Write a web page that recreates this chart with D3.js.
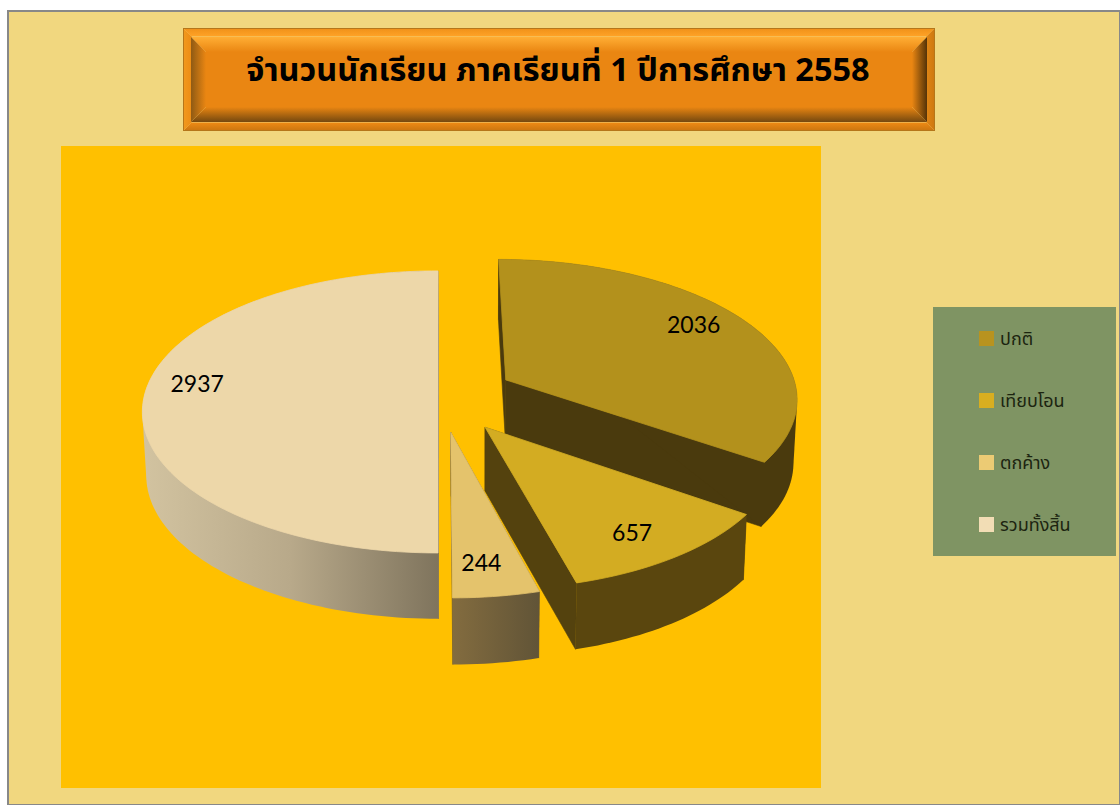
<!DOCTYPE html>
<html>
<head>
<meta charset="utf-8">
<script src="https://d3js.org/d3.v7.min.js"></script>
<style>
  html, body { margin: 0; padding: 0; background: #fff; }
  svg { display: block; }
</style>
</head>
<body>
<script>
  // data
  var categories = ["ปกติ", "เทียบโอน", "ตกค้าง", "รวมทั้งสิ้น"];
  var students = [2036, 657, 244, 2937];
  var chartTitle = "จำนวนนักเรียน ภาคเรียนที่ 1 ปีการศึกษา 2558";

  var topColors = ["#b3911c", "#d3ac22", "#e4c36c", "#edd7a9"];
  var swatchColors = ["#b8931f", "#d8ae20", "#eccb74", "#f2ddb5"];
  var thaiFont = "'Noto Sans Thai', 'Noto Sans', 'DejaVu Sans', sans-serif";
  var numFont = "Lato, 'Open Sans', sans-serif";

  var width = 1120, height = 805;
  var svg = d3.select("body").append("svg")
    .attr("width", width)
    .attr("height", height);

  var defs = svg.append("defs");
  function gradient(id, vertical, stops) {
    var g = defs.append("linearGradient").attr("id", id)
      .attr("x1", 0).attr("y1", 0)
      .attr("x2", vertical ? 0 : 1).attr("y2", vertical ? 1 : 0);
    stops.forEach(function(s, i) {
      g.append("stop").attr("offset", i / (stops.length - 1)).attr("stop-color", s);
    });
  }
  gradient("wallLeft", false, ["#d2c3a0", "#b8a98a", "#7f745d"]);
  gradient("wallSmall", false, ["#836c3f", "#615437"]);
  // outer band of the title box
  gradient("bandTop", true, ["#ef9018", "#ffa327"]);
  gradient("bandBottom", true, ["#ee8a14", "#c97510"]);
  gradient("bandLeft", false, ["#f29a1e", "#ec8c14"]);
  gradient("bandRight", false, ["#e08515", "#cc7710"]);
  // inner chamfer of the title box
  gradient("chamferTop", true, ["#ffae34", "#ea8612"]);
  gradient("chamferBottom", true, ["#ea8612", "#74480f"]);
  gradient("chamferLeft", false, ["#8f5a14", "#ea8612"]);
  gradient("chamferRight", false, ["#ea8612", "#553308"]);

  // page background
  svg.append("rect")
    .attr("x", 8).attr("y", 11)
    .attr("width", width - 8).attr("height", height - 11)
    .style("fill", "#f1d77f")
    .style("stroke", "#888")
    .style("stroke-width", 2);

  // title box: outer band, then chamfered inner panel
  var titleBox = svg.append("g");
  function frame(x0, y0, x1, y1, b, names) {
    var faces = [
      [[x0, y0], [x1, y0], [x1 - b, y0 + b], [x0 + b, y0 + b]],
      [[x0, y1], [x1, y1], [x1 - b, y1 - b], [x0 + b, y1 - b]],
      [[x0, y0], [x0 + b, y0 + b], [x0 + b, y1 - b], [x0, y1]],
      [[x1, y0], [x1 - b, y0 + b], [x1 - b, y1 - b], [x1, y1]]
    ];
    faces.forEach(function(pts, i) {
      titleBox.append("polygon")
        .attr("points", pts.map(function(d) { return d.join(","); }).join(" "))
        .style("fill", "url(#" + names[i] + ")");
    });
  }
  frame(183, 28, 935, 131, 8.5, ["bandTop", "bandBottom", "bandLeft", "bandRight"]);
  frame(191, 37, 927, 122, 15, ["chamferTop", "chamferBottom", "chamferLeft", "chamferRight"]);
  titleBox.append("rect")
    .attr("x", 206).attr("y", 52)
    .attr("width", 706).attr("height", 55)
    .style("fill", "#ea8612");
  titleBox.append("rect")
    .attr("x", 183.5).attr("y", 28.5)
    .attr("width", 751).attr("height", 102)
    .style("fill", "none")
    .style("stroke", "#b5761a");
  svg.append("text")
    .attr("x", 558).attr("y", 81)
    .attr("text-anchor", "middle")
    .style("font-family", thaiFont)
    .style("font-size", "32.5px")
    .style("font-weight", "bold")
    .style("fill", "#000")
    .text(chartTitle);

  // plot area
  svg.append("rect")
    .attr("x", 61).attr("y", 146)
    .attr("width", 760).attr("height", 642)
    .style("fill", "#ffc000");

  // 3D pie: unit disc projected with a simple perspective, front is nearer
  var cx = 438, cy = 395, rx = 293.5, ry = 139, persp = 0.12;
  var dropNear = 63, bottomX = 480, bottomPull = 0.0115;
  // explode offset of each slice in disc units (right, towards viewer) and its radius
  var explode = [[0.234, -0.11], [0.156, 0.226], [0.042, 0.26], [0, 0]];
  var sliceRadius = [0.995, 0.97, 0.982, 1];
  var labelNudge = [[-5, -7], [-3, 5], [-5, 3], [-6, -11]];

  function project(u, v, isBottom) {
    var w = 1 - persp * v;
    var x = cx + rx * u / w, y = cy + ry * v / w;
    if (isBottom) {
      return [x + (bottomX - x) * bottomPull, y + dropNear * Math.pow(w, -0.35)];
    }
    return [x, y];
  }
  function discPoint(i, angle, f, isBottom) {
    var r = f * sliceRadius[i];
    return project(explode[i][0] + r * Math.sin(angle), explode[i][1] - r * Math.cos(angle), isBottom);
  }

  var pie = d3.pie().sort(null)(students);
  var line = d3.line();

  function arcPoints(i, a0, a1, isBottom) {
    var n = Math.max(2, Math.ceil((a1 - a0) * 40));
    return d3.range(n + 1).map(function(k) {
      return discPoint(i, a0 + (a1 - a0) * k / n, 1, isBottom);
    });
  }

  var wallFills = ["#4a3a0d", "#5a460e", "url(#wallSmall)", "url(#wallLeft)"];
  var cutFills = ["#4a3a0d", "#54420e", "#6d5a30", "#7f745d"];

  // back to front: big slice, left half, then the two near slices
  var drawOrder = [0, 3, 1, 2];
  drawOrder.forEach(function(i) {
    var d = pie[i];
    var g = svg.append("g");
    var a0 = d.startAngle, a1 = d.endAngle;
    var apexT = discPoint(i, 0, 0, false), apexB = discPoint(i, 0, 0, true);

    // cut faces
    [a0, a1].forEach(function(a) {
      var pts = [apexT, discPoint(i, a, 1, false), discPoint(i, a, 1, true), apexB];
      g.append("path")
        .attr("d", line(pts) + "Z")
        .style("fill", cutFills[i])
        .style("stroke", cutFills[i])
        .style("stroke-width", 0.6);
    });

    // outer wall, hull of both arcs so the side silhouette is filled
    var topArc = arcPoints(i, a0, a1, false);
    var bottomArc = arcPoints(i, a0, a1, true);
    g.append("path")
      .attr("d", line(d3.polygonHull(topArc.concat(bottomArc))) + "Z")
      .style("fill", wallFills[i]);

    // top face, stroked so the walls don't fringe its edge
    g.append("path")
      .attr("d", line([apexT].concat(topArc)) + "Z")
      .style("fill", topColors[i])
      .style("stroke", topColors[i])
      .style("stroke-width", 0.8);
  });

  // value labels
  pie.forEach(function(d, i) {
    var mid = (d.startAngle + d.endAngle) / 2;
    var p = discPoint(i, mid, 0.8, false);
    svg.append("text")
      .attr("x", p[0] + labelNudge[i][0])
      .attr("y", p[1] + labelNudge[i][1] + 8)
      .attr("text-anchor", "middle")
      .style("font-family", numFont)
      .style("font-size", "23px")
      .style("fill", "#000")
      .text(d.value);
  });

  // legend
  svg.append("rect")
    .attr("x", 933).attr("y", 307)
    .attr("width", 183).attr("height", 249)
    .style("fill", "#7f9463");
  var legendY = d3.scalePoint().domain(categories).range([331, 517]);
  var legend = svg.selectAll(".legend")
    .data(categories)
    .enter().append("g")
    .attr("class", "legend")
    .attr("transform", function(d) { return "translate(979," + legendY(d) + ")"; });
  legend.append("rect")
    .attr("width", 15).attr("height", 15)
    .style("fill", function(d, i) { return swatchColors[i]; });
  legend.append("text")
    .attr("x", 21).attr("y", 14)
    .style("font-family", thaiFont)
    .style("font-size", "18px")
    .style("fill", "#1c2410")
    .text(function(d) { return d; });
</script>
</body>
</html>
